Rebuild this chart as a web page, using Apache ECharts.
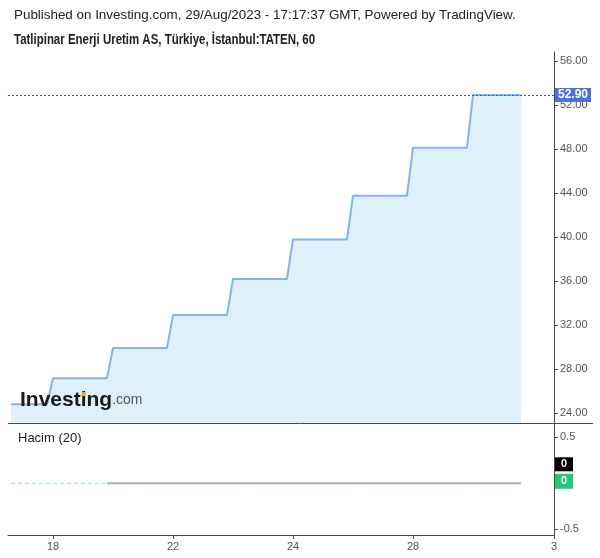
<!DOCTYPE html>
<html>
<head>
<meta charset="utf-8">
<script src="https://cdn.jsdelivr.net/npm/echarts@6/dist/echarts.min.js"></script>
<style>
  html, body { margin: 0; padding: 0; background: #fff; }
  #chart { width: 600px; height: 558px; }
</style>
</head>
<body>
<div id="chart"></div>
<script>
// hourly bars, about 10 per session; each session sits flat at the daily limit
const sessionDays = ["17", "18", "21", "22", "23", "24", "25", "28", "29"];
const sessionStart = [3, 10, 20, 30, 40, 50, 60, 70, 80];
const sessionEnd = [9, 19, 29, 39, 49, 59, 69, 79, 88];
const sessionPrice = [24.8, 27.16, 29.9, 32.9, 36.18, 39.78, 43.76, 48.12, 52.9];
const lastPrice = 52.9;

// volume panel (Hacim)
const volumeBars = [3, 88];
const volumeValues = [0, 0];
const volumeMaBars = [19, 88];
const volumeMaValues = [0, 0];

// axis labels
const xLabelBars = [10, 30, 50, 70, 93.5];
const xLabelText = ["18", "22", "24", "28", "3"];
const priceTicks = [24, 28, 32, 36, 40, 44, 48, 52, 56];
const volumeTicks = [-0.5, 0.5];

const X_MIN = 2.5;
const X_MAX = 93.5;

const priceData = [];
sessionDays.forEach((d, i) => {
  priceData.push([sessionStart[i], sessionPrice[i]]);
  priceData.push([sessionEnd[i], sessionPrice[i]]);
});
const volumeData = volumeBars.map((b, i) => [b, volumeValues[i]]);
const volumeMaData = volumeMaBars.map((b, i) => [b, volumeMaValues[i]]);

const axisColor = "#4a4a4a";
const labelColor = "#555";
const labelFont = "Liberation Sans, Arial, sans-serif";

const chart = echarts.init(document.getElementById("chart"), null, { renderer: "canvas" });

const option = {
  animation: false,
  backgroundColor: "#fff",
  textStyle: { fontFamily: labelFont },
  grid: [
    { left: 8, right: 46, top: 52, height: 371 },
    { left: 8, right: 46, top: 423, bottom: 23 },
  ],
  xAxis: [
    {
      type: "value",
      gridIndex: 0,
      min: X_MIN,
      max: X_MAX,
      axisLine: { show: false },
      axisTick: { show: false },
      axisLabel: { show: false },
      splitLine: { show: false },
    },
    {
      type: "value",
      gridIndex: 1,
      min: X_MIN,
      max: X_MAX,
      axisLine: { show: true, onZero: false, lineStyle: { color: axisColor, width: 1 } },
      axisTick: { show: true, length: 4, customValues: xLabelBars, lineStyle: { color: axisColor } },
      axisLabel: {
        customValues: xLabelBars,
        color: labelColor,
        fontSize: 11,
        margin: 6,
        formatter: (v) => {
          const i = xLabelBars.findIndex((b) => Math.abs(b - v) < 0.01);
          return i >= 0 ? xLabelText[i] : "";
        },
      },
      splitLine: { show: false },
    },
  ],
  yAxis: [
    {
      type: "value",
      gridIndex: 0,
      position: "right",
      min: 23.09,
      max: 56.82,
      axisLine: { show: true, lineStyle: { color: axisColor, width: 1 } },
      axisTick: { show: true, length: 4, customValues: priceTicks, lineStyle: { color: axisColor } },
      axisLabel: {
        customValues: priceTicks,
        color: labelColor,
        fontSize: 11,
        margin: 6,
        formatter: (v) => v.toFixed(2),
      },
      splitLine: { show: false },
    },
    {
      type: "value",
      gridIndex: 1,
      position: "right",
      min: -0.562,
      max: 0.655,
      axisLine: { show: true, lineStyle: { color: axisColor, width: 1 } },
      axisTick: { show: true, length: 4, customValues: volumeTicks, lineStyle: { color: axisColor } },
      axisLabel: {
        customValues: volumeTicks,
        color: labelColor,
        fontSize: 11,
        margin: 6,
        formatter: (v) => String(v),
      },
      splitLine: { show: false },
    },
  ],
  graphic: [
    {
      type: "text",
      x: 14,
      y: 9,
      style: {
        text: "Published on Investing.com, 29/Aug/2023 - 17:17:37 GMT, Powered by TradingView.",
        font: "13.4px Liberation Sans, Arial, sans-serif",
        fill: "#222",
      },
    },
    {
      type: "text",
      x: 14,
      y: 32,
      scaleX: 0.79,
      style: {
        text: "Tatlipinar Enerji Uretim AS, Türkiye, İstanbul:TATEN, 60",
        font: "bold 14.5px Liberation Sans, Arial, sans-serif",
        fill: "#222",
      },
    },
    {
      type: "line",
      shape: { x1: 8, y1: 423.5, x2: 593, y2: 423.5 },
      style: { stroke: axisColor, lineWidth: 1 },
      z: 10,
    },
    {
      type: "text",
      x: 18,
      y: 432,
      style: {
        text: "Hacim (20)",
        font: "13px Liberation Sans, Arial, sans-serif",
        fill: "#222",
      },
    },
    {
      type: "text",
      x: 20,
      y: 390,
      z: 20,
      style: {
        rich: {
          a: { font: "bold 21px Liberation Sans, Arial, sans-serif", fill: "#1a1a1a" },
          b: { font: "14px Liberation Sans, Arial, sans-serif", fill: "#555" },
        },
        text: "{a|Investing}{b|.com}",
      },
    },
    {
      type: "circle",
      shape: { cx: 83.6, cy: 394, r: 2.2 },
      style: { fill: "#f7a21b" },
      z: 21,
    },
  ],
  series: [
    {
      name: "TATEN",
      type: "line",
      xAxisIndex: 0,
      yAxisIndex: 0,
      data: priceData,
      symbol: "none",
      lineStyle: { color: "#7db6ee", width: 2 },
      areaStyle: { color: "#e0f0fa", origin: "start", opacity: 1 },
      markLine: {
        symbol: "none",
        silent: true,
        label: { show: false },
        lineStyle: { color: "#2f55e0", type: [2, 2], width: 1 },
        data: [{ yAxis: lastPrice }],
      },
      markPoint: {
        silent: true,
        data: [
          {
            coord: [X_MAX, lastPrice],
            symbol: "rect",
            symbolSize: [36, 14],
            symbolOffset: [19, 0],
            itemStyle: { color: "#4f6fe0" },
            label: {
              show: true,
              position: "inside",
              formatter: lastPrice.toFixed(2),
              color: "#fff",
              fontSize: 12,
              fontWeight: "bold",
            },
          },
        ],
      },
    },
    {
      name: "Hacim",
      type: "line",
      xAxisIndex: 1,
      yAxisIndex: 1,
      data: volumeData,
      symbol: "none",
      lineStyle: { color: "#8fe3c4", width: 1, type: [4, 3] },
      z: 2,
      markPoint: {
        silent: true,
        data: [
          {
            coord: [X_MAX, 0],
            symbol: "rect",
            symbolSize: [18, 14],
            symbolOffset: [10, -19],
            itemStyle: { color: "#000" },
            label: { show: true, position: "inside", formatter: "0", color: "#fff", fontSize: 11, fontWeight: "bold" },
          },
          {
            coord: [X_MAX, 0],
            symbol: "rect",
            symbolSize: [18, 15],
            symbolOffset: [10, -2],
            itemStyle: { color: "#22c979" },
            label: { show: true, position: "inside", formatter: "0", color: "#fff", fontSize: 11, fontWeight: "bold" },
          },
        ],
      },
    },
    {
      name: "Hacim MA",
      type: "line",
      xAxisIndex: 1,
      yAxisIndex: 1,
      data: volumeMaData,
      symbol: "none",
      lineStyle: { color: "#a2b5aa", width: 2 },
      z: 3,
    },
  ],
};

chart.setOption(option);

window.addEventListener("resize", () => {
  chart.resize();
});
</script>
</body>
</html>
